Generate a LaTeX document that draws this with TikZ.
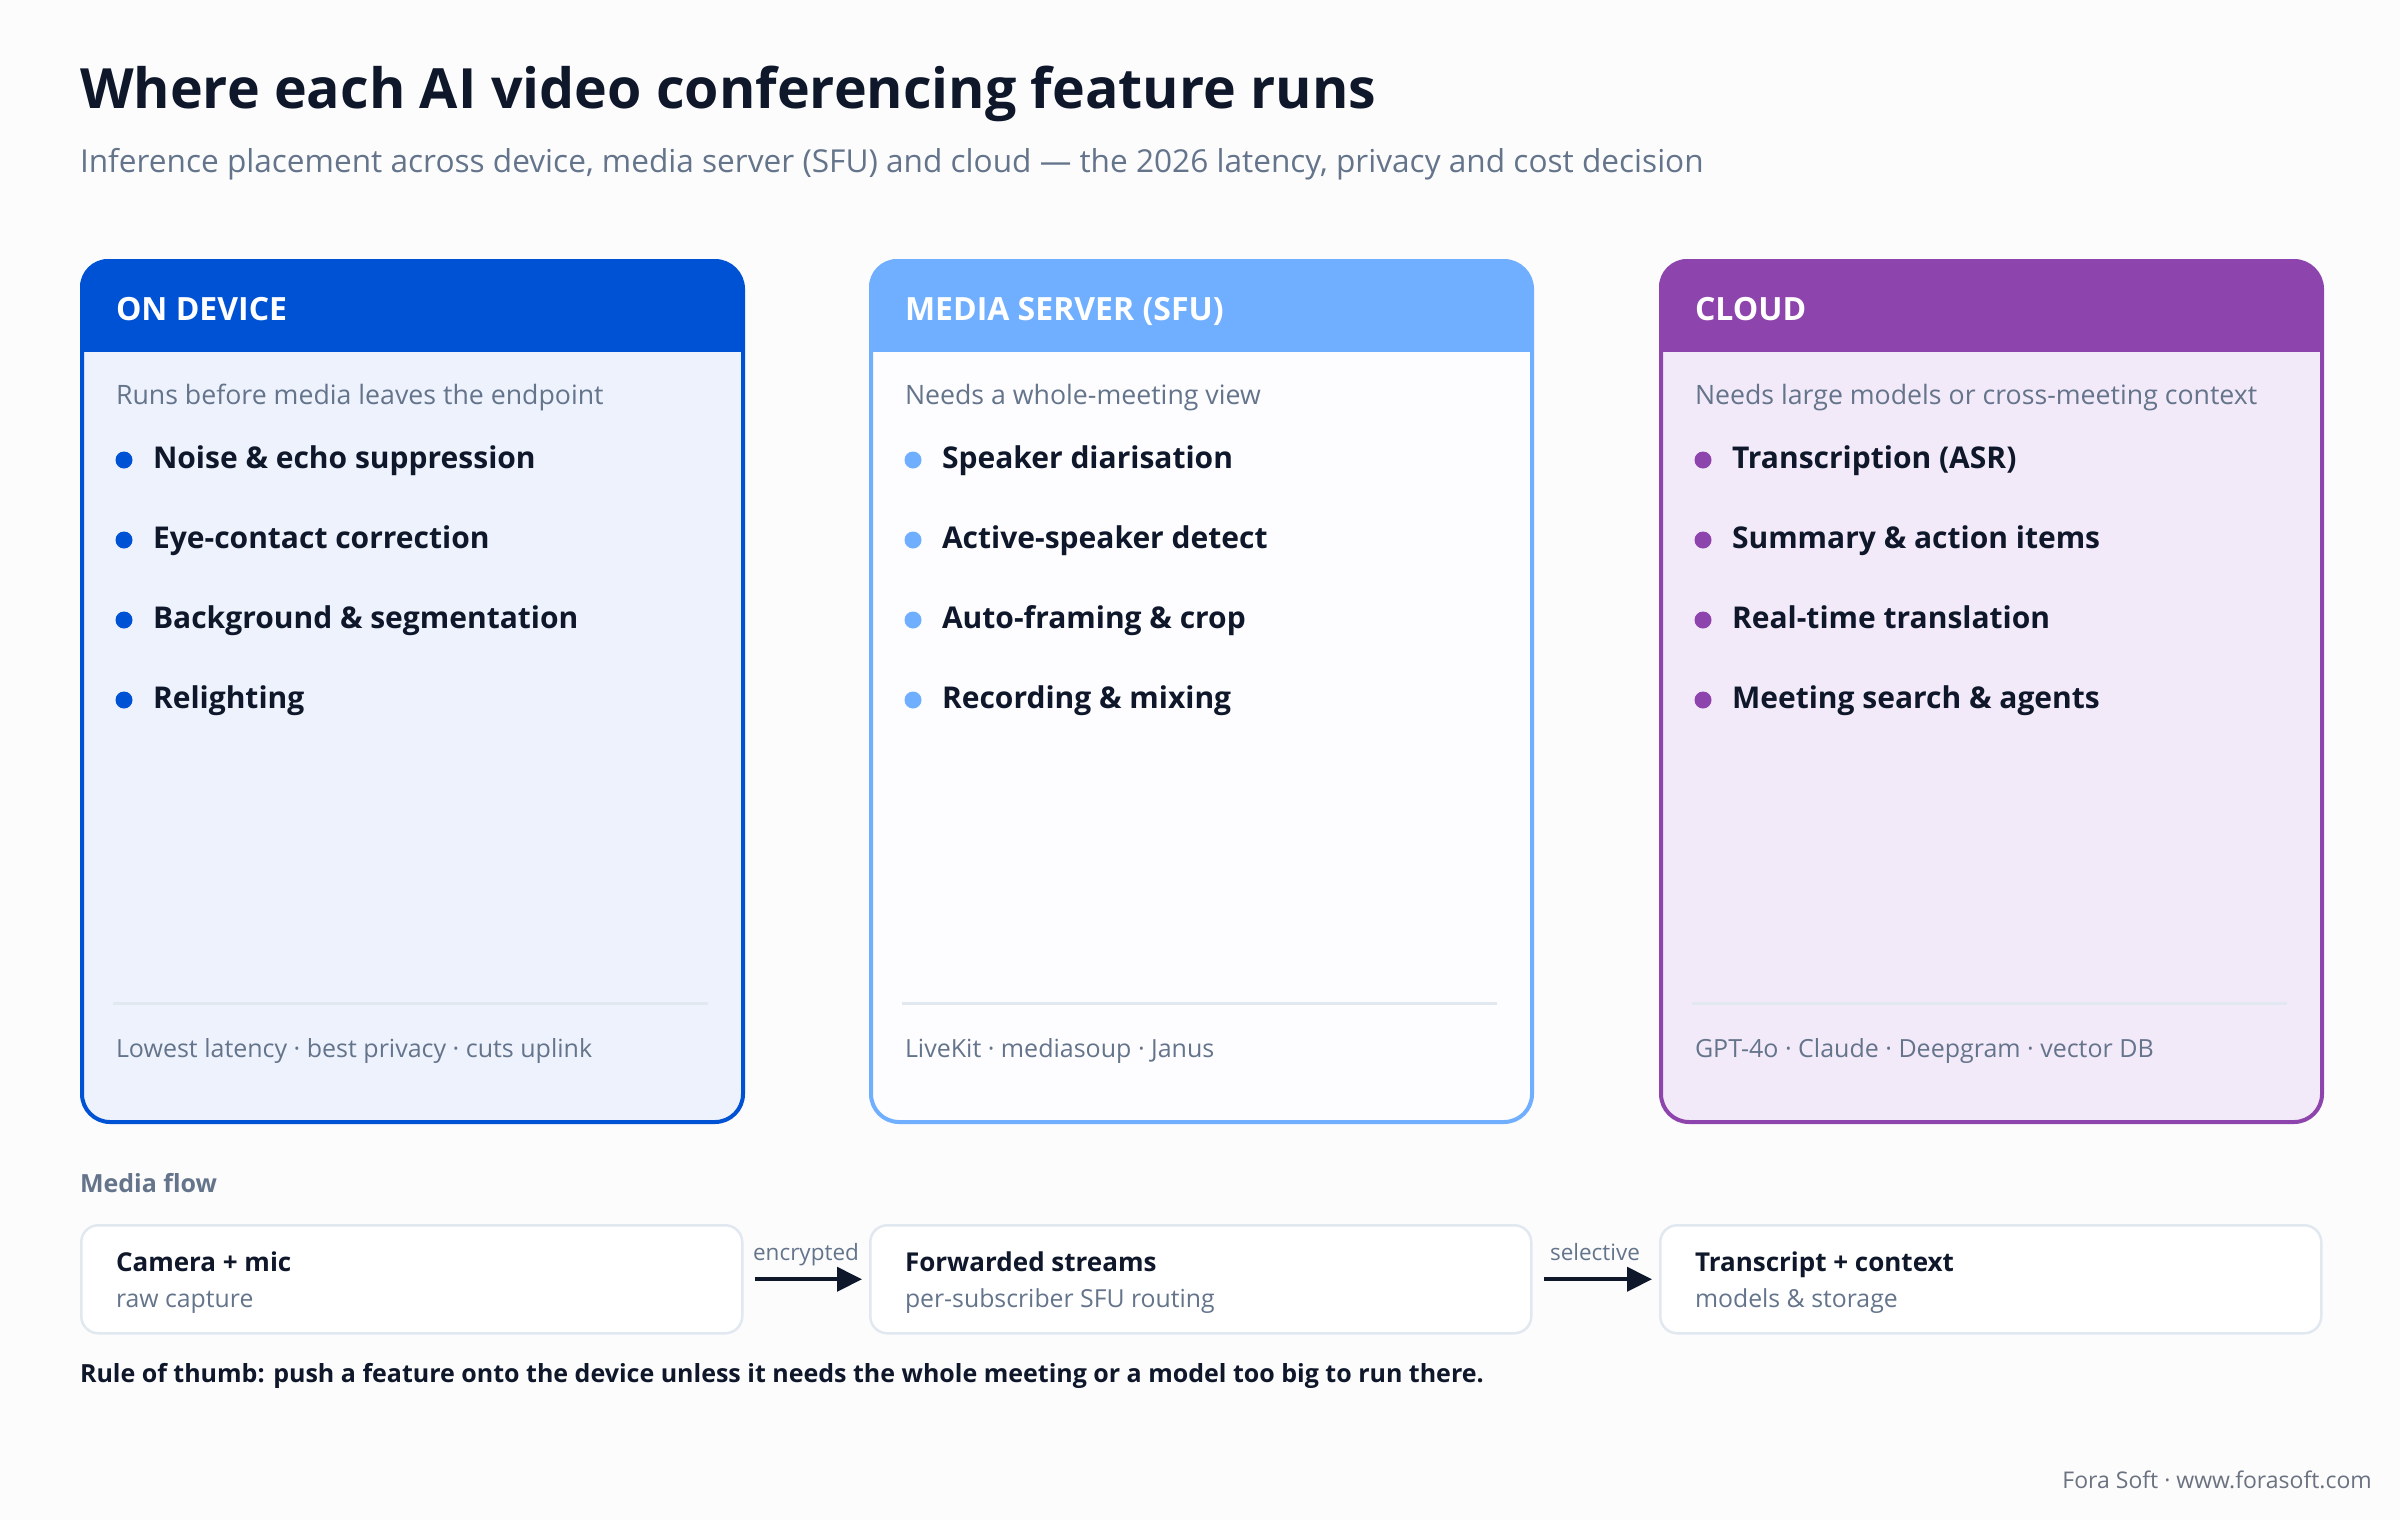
\documentclass[tikz,border=0pt]{standalone}
\usepackage{fontspec}
\setmainfont{Open Sans}
\usetikzlibrary{arrows.meta}
\definecolor{bg}{HTML}{FCFCFD}
\definecolor{ink}{HTML}{0F172A}
\definecolor{slate}{HTML}{64748B}
\definecolor{foot}{HTML}{6B7280}
\definecolor{rule}{HTML}{E2E8F0}
\definecolor{devblue}{HTML}{0052D4}
\definecolor{devfill}{HTML}{EDF2FD}
\definecolor{sfublue}{HTML}{70AFFF}
\definecolor{sfufill}{HTML}{FDFDFF}
\definecolor{cloudp}{HTML}{8E44AD}
\definecolor{cloudfill}{HTML}{F3EAF9}
\newcommand\fs[1]{\fontsize{#1}{#1}\selectfont}
\tikzset{
  txt/.style={inner sep=0pt, outer sep=0pt, anchor=base west},
  hdrtext/.style={txt, text=white, font=\fs{32}\bfseries},
  cardsub/.style={txt, text=slate, font=\fs{26.7}},
  item/.style={txt, text=ink, font=\fs{30}\bfseries},
  cardfoot/.style={txt, text=slate, font=\fs{25}},
  card/.style={draw=#1, line width=4pt, rounded corners=28pt, minimum width=661pt, minimum height=861pt, anchor=north west, inner sep=0pt},
  flowbox/.style={draw=rule, line width=2.5pt, fill=white, rounded corners=17pt, minimum width=661pt, minimum height=108pt, anchor=north west, inner sep=0pt},
  flowtitle/.style={txt, text=ink, font=\fs{26}\bfseries},
  flowsub/.style={txt, text=slate, font=\fs{24.8}},
  flowarrow/.style={ink, line width=4pt, -{Triangle[length=25pt,width=24pt]}, shorten <=11pt, shorten >=7pt},
  arrowlab/.style={inner sep=0pt, anchor=base, text=slate, font=\fs{22.5}},
}
\newcommand\mkhead[3]{%
  \begin{scope}
    \clip (#1,259) rectangle ++(661,92);
    \fill[#2, rounded corners=28pt] (#1,259) rectangle ++(661,160);
  \end{scope}
  \fill[#3] (#1+33,1002) rectangle (#1+628,1005);
}
\begin{document}
\begin{tikzpicture}[x=1pt,y=-1pt]
\useasboundingbox[fill=bg] (0,0) rectangle (2400,1520);

% title
\node[txt, text=ink, font=\fs{55.5}\bfseries] (title) at (80,108) {Where each AI video conferencing feature runs};
\node[txt, text=slate, font=\fs{31.6}] (subtitle) at (80,172) {Inference placement across device, media server (SFU) and cloud --- the 2026 latency, privacy and cost decision};

% cards
\node[card=devblue, fill=devfill] (c1) at (80,259) {};
\node[card=sfublue, fill=sfufill] (c2) at (869,259) {};
\node[card=cloudp, fill=cloudfill] (c3) at (1659,259) {};
\mkhead{80}{devblue}{rule}
\mkhead{869}{sfublue}{rule}
\mkhead{1659}{cloudp}{rule}

% card 1
\node[hdrtext] (h1) at (116,320) {ON DEVICE};
\node[cardsub] (s1) at (116,404) {Runs before media leaves the endpoint};
\fill[devblue] (124,460) circle (8.5);
\fill[devblue] (124,540) circle (8.5);
\fill[devblue] (124,620) circle (8.5);
\fill[devblue] (124,700) circle (8.5);
\node[item] (i11) at (153,468) {Noise \& echo suppression};
\node[item] (i12) at (153,548) {Eye-contact correction};
\node[item] (i13) at (153,628) {Background \& segmentation};
\node[item] (i14) at (153,708) {Relighting};
\node[cardfoot] (f1t) at (116,1057) {Lowest latency · best privacy · cuts uplink};

% card 2
\node[hdrtext] (h2) at (905,320) {MEDIA SERVER (SFU)};
\node[cardsub] (s2) at (905,404) {Needs a whole-meeting view};
\fill[sfublue] (913,460) circle (8.5);
\fill[sfublue] (913,540) circle (8.5);
\fill[sfublue] (913,620) circle (8.5);
\fill[sfublue] (913,700) circle (8.5);
\node[item] (i21) at (942,468) {Speaker diarisation};
\node[item] (i22) at (942,548) {Active-speaker detect};
\node[item] (i23) at (942,628) {Auto-framing \& crop};
\node[item] (i24) at (942,708) {Recording \& mixing};
\node[cardfoot] (f2t) at (905,1057) {LiveKit · mediasoup · Janus};

% card 3
\node[hdrtext] (h3) at (1695,320) {CLOUD};
\node[cardsub] (s3) at (1695,404) {Needs large models or cross-meeting context};
\fill[cloudp] (1703,460) circle (8.5);
\fill[cloudp] (1703,540) circle (8.5);
\fill[cloudp] (1703,620) circle (8.5);
\fill[cloudp] (1703,700) circle (8.5);
\node[item] (i31) at (1732,468) {Transcription (ASR)};
\node[item] (i32) at (1732,548) {Summary \& action items};
\node[item] (i33) at (1732,628) {Real-time translation};
\node[item] (i34) at (1732,708) {Meeting search \& agents};
\node[cardfoot] (f3t) at (1695,1057) {GPT-4o · Claude · Deepgram · vector DB};

% media flow
\node[txt, text=slate, font=\fs{25}\bfseries] (mf) at (80,1192) {Media flow};
\node[flowbox] (b1) at (80,1224) {};
\node[flowbox] (b2) at (869,1224) {};
\node[flowbox] (b3) at (1659,1224) {};
\node[flowtitle] (b1t) at (116,1271) {Camera + mic};
\node[flowsub] (b1s) at (116,1307) {raw capture};
\node[flowtitle] (b2t) at (905,1271) {Forwarded streams};
\node[flowsub] (b2s) at (905,1307) {per-subscriber SFU routing};
\node[flowtitle] (b3t) at (1695,1271) {Transcript + context};
\node[flowsub] (b3s) at (1695,1307) {models \& storage};
\draw[flowarrow] (b1.east) -- (b2.west);
\draw[flowarrow] (b2.east) -- (b3.west);
\node[arrowlab] (l1) at (806,1260) {encrypted};
\node[arrowlab] (l2) at (1595,1260) {selective};

\node[txt, text=ink, font=\fs{25}\bfseries] (rule) at (80,1382) {Rule of thumb: push a feature onto the device unless it needs the whole meeting or a model too big to run there.};
\node[inner sep=0pt, anchor=base east, text=foot, font=\fs{23}] (credit) at (2372,1488) {Fora Soft · www.forasoft.com};
\end{tikzpicture}
\end{document}
